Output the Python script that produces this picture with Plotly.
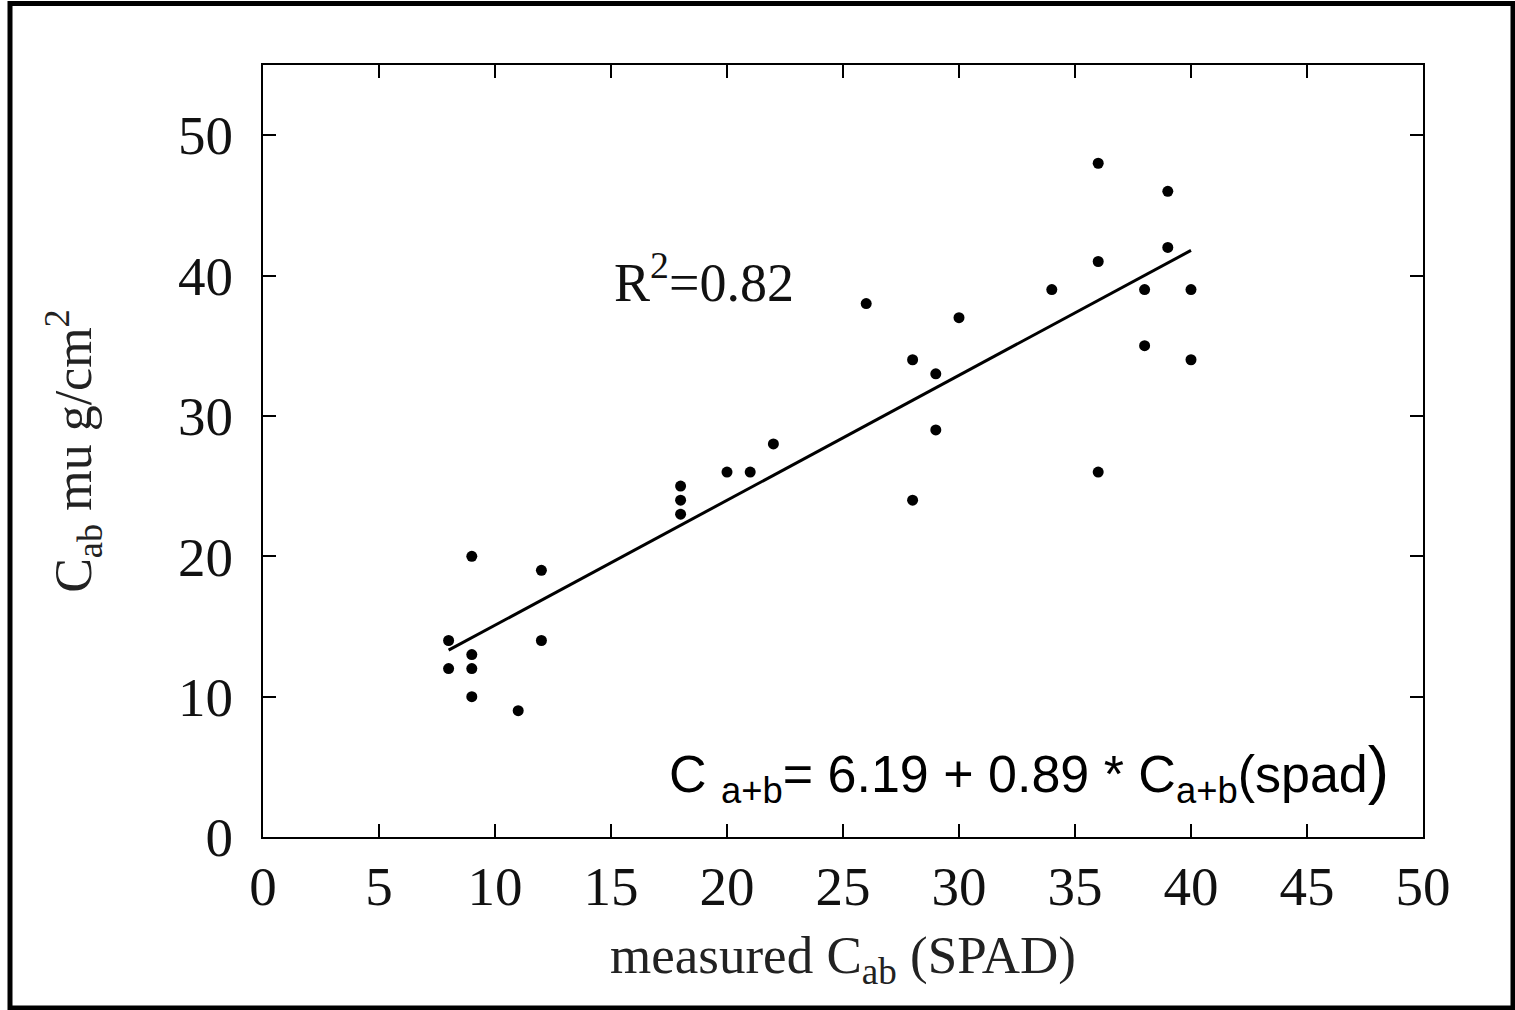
import plotly.graph_objects as go
import numpy as np

# measured (SPAD) values and lab chlorophyll values
spad_x = [8, 8, 9, 9, 9, 9, 11, 12, 12, 18, 18, 18, 20, 21, 22, 26, 28, 28, 29, 29,
          30, 34, 36, 36, 36, 38, 38, 39, 39, 40, 40]
cab_y = [14, 12, 20, 13, 12, 10, 9, 19, 14, 25, 24, 23, 26, 26, 28, 38, 34, 24, 33, 29,
         37, 39, 48, 41, 26, 39, 35, 46, 42, 39, 34]

# regression coefficients (as printed on the chart)
intercept = 6.19
slope = 0.89
r2 = 0.82

x_ticks = [0, 5, 10, 15, 20, 25, 30, 35, 40, 45, 50]
y_ticks = [0, 10, 20, 30, 40, 50]

fit_x = np.array([min(spad_x), max(spad_x)], dtype=float)
fit_y = intercept + slope * fit_x

fig = go.Figure()
fig.add_trace(go.Scatter(x=fit_x, y=fit_y, mode="lines",
                         line=dict(color="black", width=3), showlegend=False))
fig.add_trace(go.Scatter(x=spad_x, y=cab_y, mode="markers",
                         marker=dict(color="black", size=11), showlegend=False))

serif = "Liberation Serif, Times New Roman, serif"
axis_common = dict(showline=True, linecolor="black", linewidth=2, mirror="ticks",
                   ticks="inside", ticklen=13, tickwidth=2, tickcolor="black",
                   showgrid=False, zeroline=False,
                   tickfont=dict(family=serif, size=55, color="#111"))

fig.update_xaxes(range=[0, 50], tickvals=x_ticks, ticktext=[str(v) for v in x_ticks],
                 title=dict(text="measured C<sub>ab</sub> (SPAD)",
                            font=dict(family=serif, size=53, color="#222"), standoff=20),
                 **axis_common)
fig.update_yaxes(range=[0, 55], tickvals=y_ticks, ticktext=[str(v) for v in y_ticks],
                 ticklabelstandoff=17,
                 title=dict(text="C<sub>ab</sub> mu g/cm<sup>2</sup>",
                            font=dict(family=serif, size=52, color="#222"), standoff=70),
                 **axis_common)

fig.add_annotation(x=19.0, y=39.8, xref="x", yref="y", showarrow=False,
                   text=f"R<sup>2</sup>={r2}",
                   font=dict(family=serif, size=54, color="#111"))
fig.add_annotation(x=48.6, y=4.6, xref="x", yref="y", showarrow=False,
                   xanchor="right", yanchor="middle",
                   text=(f"C <sub>a+b</sub>= {intercept} + {slope} * C<sub>a+b</sub>(spad"
                         "<span style='font-size:64px'>)</span>"),
                   font=dict(family="Liberation Sans, Arial, sans-serif", size=52, color="black"))

# outer frame around whole image
fig.add_shape(type="rect", xref="paper", yref="paper",
              x0=(10 - 263) / 1160, x1=(1513 - 263) / 1160,
              y0=(837 - 1008) / 772, y1=(837 - 3.5) / 772,
              line=dict(color="black", width=5), fillcolor="rgba(0,0,0,0)")

fig.update_layout(width=1515, height=1010,
                  margin=dict(l=263, r=92, t=65, b=173),
                  paper_bgcolor="white", plot_bgcolor="white")

fig.write_html("out.html")
